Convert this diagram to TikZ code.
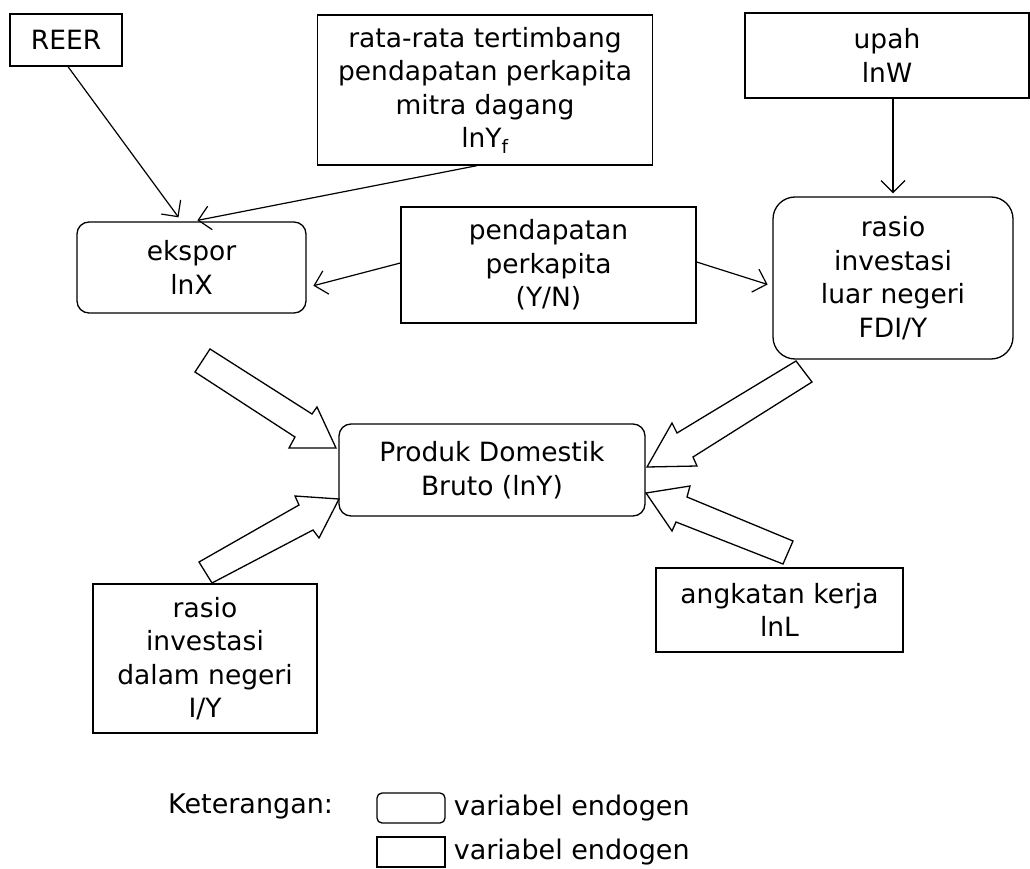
\documentclass[tikz,border=0pt]{standalone}
\usepackage{fontspec}
\setmainfont{DejaVu Sans}
\usetikzlibrary{arrows.meta}
\tikzset{
  base/.style={draw, line width=1.3pt, align=center, inner sep=0pt,
    font=\fontsize{26.5}{33.5}\selectfont},
  sqbox/.style={base},
  rdbox/.style={base, rounded corners=12pt},
  thin arrow/.style={line width=1.2pt, -{Straight Barb[length=12pt,width=24pt,line width=1.2pt]}},
  block/.style={draw, line width=1.3pt, line join=miter, fill=white},
  txt/.style={font=\fontsize{27}{33}\selectfont, inner sep=0pt}
}
\begin{document}
\begin{tikzpicture}[x=1pt,y=-1pt]
\useasboundingbox (0,0) rectangle (1030,869);
% nodes
\node[sqbox, minimum width=112pt, minimum height=52pt] (reer) at (66,40) {REER};
\node[sqbox, minimum width=335pt, minimum height=150pt] (ryf) at (485,90)
  {rata-rata tertimbang\\pendapatan perkapita\\mitra dagang\\lnY\textsubscript{f}};
\node[sqbox, minimum width=284pt, minimum height=85pt] (upah) at (887,55.5) {upah\\lnW};
\node[rdbox, minimum width=229pt, minimum height=91pt] (ekspor) at (191.5,267.5) {ekspor\\lnX};
\node[sqbox, minimum width=295pt, minimum height=116pt] (pend) at (548.5,265)
  {pendapatan\\perkapita\\(Y/N)};
\node[rdbox, rounded corners=22pt, minimum width=240pt, minimum height=162pt] (fdi) at (893,278)
  {rasio\\investasi\\luar negeri\\FDI/Y};
\node[rdbox, minimum width=306pt, minimum height=92pt] (pdb) at (492,470)
  {Produk Domestik\\Bruto (lnY)};
\node[sqbox, minimum width=224pt, minimum height=149pt] (dalam) at (205,658.5)
  {rasio\\investasi\\dalam negeri\\I/Y};
\node[sqbox, minimum width=247pt, minimum height=84pt] (lab) at (779.5,610)
  {angkatan kerja\\lnL};
% thin arrows
\draw[thin arrow, shorten >=5pt] ([xshift=2pt]reer.south) -- ([xshift=-10pt]ekspor.north);
\draw[thin arrow, shorten >=5pt] ([xshift=-8pt]ryf.south) -- ([xshift=1pt]ekspor.north);
\draw[thin arrow, shorten >=3pt] (upah.south -| fdi.north) -- (fdi.north);
\draw[thin arrow, shorten >=7pt] ([yshift=2pt]pend.west) -- ([yshift=-20pt]ekspor.east);
\draw[thin arrow, shorten >=5pt] ([yshift=3pt]pend.east) -- ([yshift=-8pt]fdi.west);
% block arrows
\draw[block] (210,349) -- (312,414) -- (317,407) -- (336,448) -- (289,448) -- (295,437) -- (195,372) -- cycle;
\draw[block] (199,562) -- (299,505) -- (295,496) -- (339,499) -- (319,538) -- (313,530) -- (212,583) -- cycle;
\draw[block] (796,361) -- (812,382) -- (693,457) -- (697,466) -- (647,467) -- (672,423) -- (677,433) -- cycle;
\draw[block] (793,541) -- (783,564) -- (676,522) -- (672,531) -- (646,493) -- (690,486) -- (687,497) -- cycle;
% legend
\node[txt, anchor=west] (ket) at (168,806) {Keterangan:};
\node[draw, line width=1.3pt, rounded corners=5pt, minimum width=68pt, minimum height=30pt, inner sep=0pt] (leg1) at (411,808) {};
\node[draw, line width=1.3pt, minimum width=68pt, minimum height=30pt, inner sep=0pt] (leg2) at (411,852) {};
\node[txt, anchor=west] (legt1) at ([xshift=8pt]leg1.east) {variabel endogen};
\node[txt, anchor=west] (legt2) at ([xshift=8pt]leg2.east) {variabel endogen};
\end{tikzpicture}
\end{document}
